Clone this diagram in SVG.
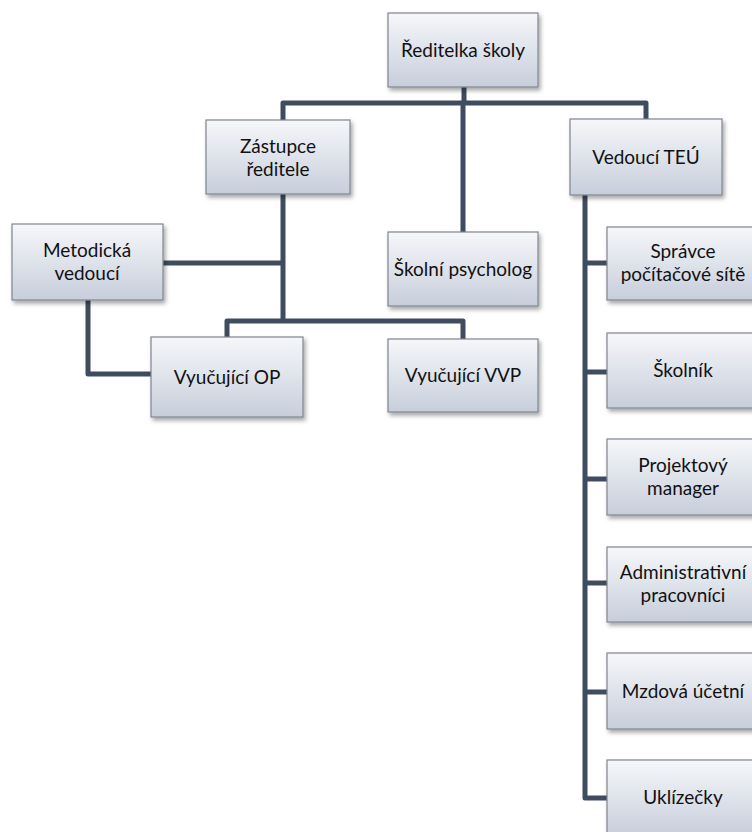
<svg xmlns="http://www.w3.org/2000/svg" width="752" height="832" viewBox="0 0 752 832">
<defs>
<linearGradient id="g" x1="0" y1="0" x2="0" y2="1">
<stop offset="0" stop-color="#f6f7fa"/>
<stop offset="1" stop-color="#c7cedb"/>
</linearGradient>
<filter id="sh" x="-10%" y="-10%" width="125%" height="135%">
<feDropShadow dx="2" dy="3" stdDeviation="2.2" flood-color="#000" flood-opacity="0.35"/>
</filter>
<style>
.box{fill:url(#g);stroke:#7f858f;stroke-width:1.2;filter:url(#sh)}
.t{font-family:Lato,"Open Sans","Liberation Sans",sans-serif;font-size:19px;fill:#111;text-anchor:middle}
.c{fill:none;stroke:#3f4c5f;stroke-width:5;stroke-linejoin:round;stroke-linecap:butt}
</style>
</defs>
<rect width="752" height="832" fill="#fff"/>
<g id="connectors">
<path class="c" d="M464,87 V103"/>
<path class="c" d="M283,120 V103 H646 V119"/>
<path class="c" d="M463,103 V232"/>
<path class="c" d="M283,194 V321"/>
<path class="c" d="M163,263 H283"/>
<path class="c" d="M227,337 V321 H463 V339"/>
<path class="c" d="M88,300 V374 H151"/>
<path class="c" d="M585,195 V798 H607"/>
<path class="c" d="M585,263 H607"/>
<path class="c" d="M585,372 H607"/>
<path class="c" d="M585,479 H607"/>
<path class="c" d="M585,583 H607"/>
<path class="c" d="M585,692 H607"/>
</g>
<g id="reditelka"><rect class="box" x="388" y="13" width="150" height="74"/><text class="t" x="463" y="57">Ředitelka školy</text></g>
<g id="zastupce"><rect class="box" x="206" y="120" width="144" height="74"/><text class="t" x="278" y="153">Zástupce</text><text class="t" x="278" y="176">ředitele</text></g>
<g id="vedouci-teu"><rect class="box" x="570" y="119" width="152" height="76"/><text class="t" x="646" y="164">Vedoucí TEÚ</text></g>
<g id="metodicka"><rect class="box" x="12" y="224" width="151" height="76"/><text class="t" x="87" y="257">Metodická</text><text class="t" x="87" y="280">vedoucí</text></g>
<g id="psycholog"><rect class="box" x="388" y="232" width="150" height="74"/><text class="t" x="463" y="276">Školní psycholog</text></g>
<g id="vyucujici-op"><rect class="box" x="151" y="337" width="152" height="80"/><text class="t" x="227" y="384">Vyučující OP</text></g>
<g id="vyucujici-vvp"><rect class="box" x="388" y="339" width="150" height="73"/><text class="t" x="463" y="382">Vyučující VVP</text></g>
<g id="spravce"><rect class="box" x="607" y="227" width="152" height="73"/><text class="t" x="683" y="258">Správce</text><text class="t" x="683" y="281">počítačové sítě</text></g>
<g id="skolnik"><rect class="box" x="607" y="333" width="152" height="75"/><text class="t" x="683" y="377">Školník</text></g>
<g id="projektovy"><rect class="box" x="607" y="439" width="152" height="76"/><text class="t" x="683" y="472">Projektový</text><text class="t" x="683" y="495">manager</text></g>
<g id="administrativni"><rect class="box" x="607" y="547" width="152" height="75"/><text class="t" x="683" y="579">Administrativní</text><text class="t" x="683" y="602">pracovníci</text></g>
<g id="mzdova"><rect class="box" x="607" y="653" width="152" height="76"/><text class="t" x="683" y="698">Mzdová účetní</text></g>
<g id="uklizecky"><rect class="box" x="607" y="760" width="152" height="76"/><text class="t" x="683" y="804">Uklízečky</text></g>
</svg>
